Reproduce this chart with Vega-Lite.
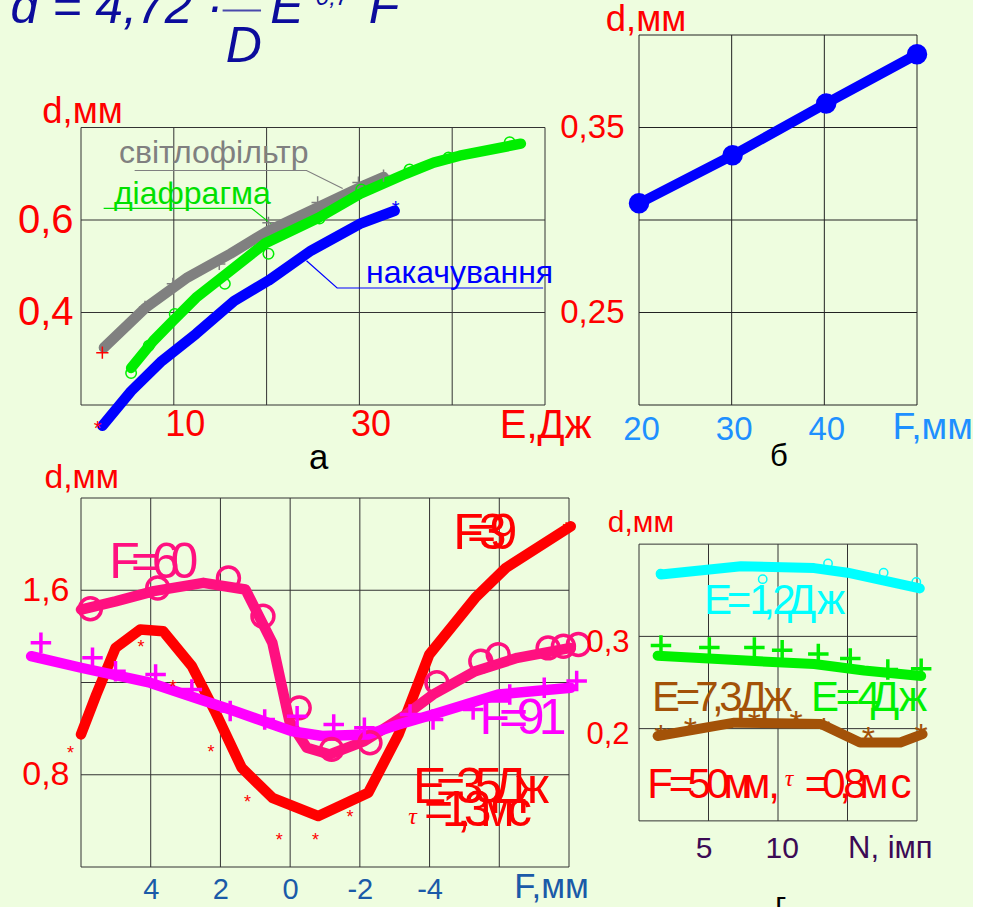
{
  "$schema": "https://vega.github.io/schema/vega-lite/v6.json",
  "background": "#eefddf",
  "padding": {"left": 10, "top": -17, "right": 0, "bottom": 0},
  "config": {
    "view": {"stroke": null},
    "font": "Liberation Sans",
    "axis": {"domain": false, "ticks": false, "grid": false, "title": null, "labelFont": "Liberation Sans", "labelFlush": false, "labelOverlap": false}
  },
  "columns": 2,
  "spacing": {"row": 93, "column": 70},
  "bounds": "flush",
  "concat": [
    {
      "width": 464,
      "height": 370,
      "resolve": {"scale": {"color": "independent"}},
      "layer": [
        {
          "data": {"values": [
            {"x": 0, "x2": 0, "y": 0.2, "y2": 0.8}, {"x": 10, "x2": 10, "y": 0.2, "y2": 0.8},
            {"x": 20, "x2": 20, "y": 0.2, "y2": 0.8}, {"x": 30, "x2": 30, "y": 0.2, "y2": 0.8},
            {"x": 40, "x2": 40, "y": 0.2, "y2": 0.8}, {"x": 50, "x2": 50, "y": 0.2, "y2": 0.8},
            {"x": 0, "x2": 50, "y": 0.2, "y2": 0.2}, {"x": 0, "x2": 50, "y": 0.4, "y2": 0.4},
            {"x": 0, "x2": 50, "y": 0.6, "y2": 0.6}, {"x": 0, "x2": 50, "y": 0.8, "y2": 0.8}
          ]},
          "mark": {"type": "rule", "color": "#333333", "strokeWidth": 1},
          "encoding": {
            "x": {"field": "x", "type": "quantitative", "scale": {"domain": [0, 50], "nice": false, "zero": false},
                  "axis": {"values": [10, 30], "labelFontSize": 36, "labelColor": "#ff0000", "labelOffset": 11, "labelPadding": 2, "title": null}},
            "x2": {"field": "x2"},
            "y": {"field": "y", "type": "quantitative", "scale": {"domain": [0.2, 1.0], "nice": false, "zero": false},
                  "axis": {"values": [0.4, 0.6], "labelExpr": "replace(format(datum.value,'.1f'),'.',',')", "labelFontSize": 40, "labelColor": "#ff0000", "labelPadding": 8, "title": null}},
            "y2": {"field": "y2"}
          }
        },
        {
          "data": {"values": [
            {"s": "світлофільтр", "x": 5.78, "y": 0.707}, {"s": "світлофільтр", "x": 24.3, "y": 0.707}, {"s": "світлофільтр", "x": 28.2, "y": 0.668},
            {"s": "діафрагма", "x": 2.44, "y": 0.625}, {"s": "діафрагма", "x": 18.4, "y": 0.625}, {"s": "діафрагма", "x": 21.4, "y": 0.577},
            {"s": "накачування", "x": 24.3, "y": 0.512}, {"s": "накачування", "x": 27.6, "y": 0.453}, {"s": "накачування", "x": 49.8, "y": 0.453}
          ]},
          "mark": {"type": "line", "strokeWidth": 1.2},
          "encoding": {
            "x": {"field": "x", "type": "quantitative"},
            "y": {"field": "y", "type": "quantitative"},
            "color": {"field": "s", "type": "nominal", "scale": {"domain": ["світлофільтр", "діафрагма", "накачування"], "range": ["#808080", "#00e000", "#0000ff"]}, "legend": null}
          }
        },
        {
          "data": {"values": [
            {"s": "світлофільтр", "x": 2.47, "y": 0.324}, {"s": "світлофільтр", "x": 7.0, "y": 0.411}, {"s": "світлофільтр", "x": 11.5, "y": 0.476},
            {"s": "світлофільтр", "x": 16.1, "y": 0.527}, {"s": "світлофільтр", "x": 20.2, "y": 0.577}, {"s": "світлофільтр", "x": 25.6, "y": 0.628},
            {"s": "світлофільтр", "x": 30.1, "y": 0.671}, {"s": "світлофільтр", "x": 32.6, "y": 0.693},
            {"s": "діафрагма", "x": 5.4, "y": 0.28}, {"s": "діафрагма", "x": 7.8, "y": 0.339}, {"s": "діафрагма", "x": 9.9, "y": 0.382},
            {"s": "діафрагма", "x": 12.4, "y": 0.432}, {"s": "діафрагма", "x": 15.7, "y": 0.484}, {"s": "діафрагма", "x": 19.8, "y": 0.549},
            {"s": "діафрагма", "x": 25.6, "y": 0.605}, {"s": "діафрагма", "x": 30.1, "y": 0.657}, {"s": "діафрагма", "x": 35.0, "y": 0.70},
            {"s": "діафрагма", "x": 38.0, "y": 0.724}, {"s": "діафрагма", "x": 40.8, "y": 0.739}, {"s": "діафрагма", "x": 47.4, "y": 0.765},
            {"s": "накачування", "x": 2.3, "y": 0.155}, {"s": "накачування", "x": 5.4, "y": 0.23}, {"s": "накачування", "x": 8.7, "y": 0.295},
            {"s": "накачування", "x": 12.4, "y": 0.354}, {"s": "накачування", "x": 16.5, "y": 0.425}, {"s": "накачування", "x": 20.2, "y": 0.469},
            {"s": "накачування", "x": 24.8, "y": 0.534}, {"s": "накачування", "x": 30.1, "y": 0.592}, {"s": "накачування", "x": 33.8, "y": 0.62}
          ]},
          "mark": {"type": "line", "strokeWidth": 10.5, "strokeCap": "round", "strokeJoin": "round"},
          "encoding": {
            "x": {"field": "x", "type": "quantitative"},
            "y": {"field": "y", "type": "quantitative"},
            "color": {"field": "s", "type": "nominal", "scale": {"domain": ["світлофільтр", "діафрагма", "накачування"], "range": ["#808080", "#00ee00", "#0000ff"]}, "legend": null}
          }
        },
        {
          "data": {"values": [
            {"x": 6.9, "y": 0.412}, {"x": 9.9, "y": 0.462}, {"x": 14.9, "y": 0.505}, {"x": 20.2, "y": 0.594},
            {"x": 25.5, "y": 0.638}, {"x": 29.9, "y": 0.681}, {"x": 32.6, "y": 0.696}
          ]},
          "mark": {"type": "point", "shape": "M-1,0H1M0,-1V1", "filled": false, "size": 150, "strokeWidth": 1.5, "color": "#808080", "opacity": 1},
          "encoding": {
            "x": {"field": "x", "type": "quantitative"},
            "y": {"field": "y", "type": "quantitative"}
          }
        },
        {
          "data": {"values": [{"x": 2.3, "y": 0.313}]},
          "mark": {"type": "point", "shape": "M-1,0H1M0,-1V1", "filled": false, "size": 150, "strokeWidth": 1.5, "color": "#ff0000", "opacity": 1},
          "encoding": {
            "x": {"field": "x", "type": "quantitative"},
            "y": {"field": "y", "type": "quantitative"}
          }
        },
        {
          "data": {"values": [
            {"x": 5.4, "y": 0.269}, {"x": 7.3, "y": 0.328}, {"x": 10.1, "y": 0.397}, {"x": 15.5, "y": 0.462},
            {"x": 20.2, "y": 0.527}, {"x": 25.7, "y": 0.603}, {"x": 30.2, "y": 0.666}, {"x": 35.4, "y": 0.709},
            {"x": 39.6, "y": 0.735}, {"x": 46.2, "y": 0.768}
          ]},
          "mark": {"type": "point", "shape": "circle", "filled": false, "size": 110, "strokeWidth": 1.5, "color": "#00ee00", "opacity": 1},
          "encoding": {
            "x": {"field": "x", "type": "quantitative"},
            "y": {"field": "y", "type": "quantitative"}
          }
        },
        {
          "data": {"values": [{"x": 1.8, "y": 0.16, "c": "r"}, {"x": 33.9, "y": 0.635, "c": "b"}]},
          "mark": {"type": "text", "text": "*", "fontSize": 20, "baseline": "middle", "dy": 5},
          "encoding": {
            "x": {"field": "x", "type": "quantitative"},
            "y": {"field": "y", "type": "quantitative"},
            "color": {"field": "c", "type": "nominal", "scale": {"domain": ["r", "b"], "range": ["#ff0000", "#0000ff"]}, "legend": null}
          }
        },
        {
          "data": {"values": [
            {"s": "світлофільтр", "x": 14.3, "y": 0.724}, {"s": "діафрагма", "x": 12.0, "y": 0.635}, {"s": "накачування", "x": 40.8, "y": 0.464}
          ]},
          "mark": {"type": "text", "fontSize": 32, "align": "center", "baseline": "alphabetic"},
          "encoding": {
            "x": {"field": "x", "type": "quantitative"},
            "y": {"field": "y", "type": "quantitative"},
            "text": {"field": "s"},
            "color": {"field": "s", "type": "nominal", "scale": {"domain": ["світлофільтр", "діафрагма", "накачування"], "range": ["#808080", "#00e000", "#0000ff"]}, "legend": null}
          }
        },
        {
          "data": {"values": [
            {"t": "d,мм", "x": 0.17, "y": 0.809, "k": "t", "f": 32},
            {"t": "E,Дж", "x": 50.06, "y": 0.1285, "k": "t", "f": 36},
            {"t": "а", "x": 25.6, "y": 0.0614, "k": "k", "f": 30}
          ]},
          "mark": {"type": "text", "align": "center", "baseline": "alphabetic"},
          "encoding": {
            "x": {"field": "x", "type": "quantitative"},
            "y": {"field": "y", "type": "quantitative"},
            "text": {"field": "t"},
            "size": {"field": "f", "type": "quantitative", "scale": {"type": "identity"}, "legend": null},
            "color": {"field": "k", "type": "nominal", "scale": {"domain": ["t", "k"], "range": ["#ff0000", "#000000"]}, "legend": null}
          }
        },
        {
          "data": {"values": [
            {"t": "d = 4,72 ·", "x": -7.59, "y": 1.025},
            {"t": "D", "x": 15.6, "y": 0.941},
            {"t": "E", "x": 20.4, "y": 1.025},
            {"t": "F", "x": 31.0, "y": 1.025}
          ]},
          "mark": {"type": "text", "align": "left", "baseline": "alphabetic", "fontSize": 50, "fontStyle": "italic", "color": "#0c0c9c"},
          "encoding": {
            "x": {"field": "x", "type": "quantitative"},
            "y": {"field": "y", "type": "quantitative"},
            "text": {"field": "t"}
          }
        },
        {
          "data": {"values": [{"t": "0,7", "x": 25.3, "y": 1.064}]},
          "mark": {"type": "text", "align": "left", "baseline": "alphabetic", "fontSize": 24, "fontStyle": "italic", "color": "#0c0c9c"},
          "encoding": {
            "x": {"field": "x", "type": "quantitative"},
            "y": {"field": "y", "type": "quantitative"},
            "text": {"field": "t"}
          }
        },
        {
          "data": {"values": [{"x": 15.26, "x2": 19.4, "y": 1.053}]},
          "mark": {"type": "rule", "color": "#4a4aac", "strokeWidth": 2},
          "encoding": {
            "x": {"field": "x", "type": "quantitative"},
            "x2": {"field": "x2"},
            "y": {"field": "y", "type": "quantitative"}
          }
        }
      ]
    },
    {
      "width": 278,
      "height": 370,
      "resolve": {"scale": {"color": "independent"}},
      "layer": [
        {
          "data": {"values": [
            {"x": 20, "x2": 20, "y": 0.2, "y2": 0.4}, {"x": 30, "x2": 30, "y": 0.2, "y2": 0.4},
            {"x": 40, "x2": 40, "y": 0.2, "y2": 0.4}, {"x": 50, "x2": 50, "y": 0.2, "y2": 0.4},
            {"x": 20, "x2": 50, "y": 0.2, "y2": 0.2}, {"x": 20, "x2": 50, "y": 0.25, "y2": 0.25},
            {"x": 20, "x2": 50, "y": 0.3, "y2": 0.3}, {"x": 20, "x2": 50, "y": 0.35, "y2": 0.35},
            {"x": 20, "x2": 50, "y": 0.4, "y2": 0.4}
          ]},
          "mark": {"type": "rule", "color": "#222222", "strokeWidth": 1},
          "encoding": {
            "x": {"field": "x", "type": "quantitative", "scale": {"domain": [20, 50], "nice": false, "zero": false},
                  "axis": {"values": [20, 30, 40], "labelFontSize": 33, "labelColor": "#1e90ff", "labelPadding": 8, "labelOffset": 2, "title": null}},
            "x2": {"field": "x2"},
            "y": {"field": "y", "type": "quantitative", "scale": {"domain": [0.2, 0.4], "nice": false, "zero": false},
                  "axis": {"values": [0.25, 0.35], "labelExpr": "replace(format(datum.value,'.2f'),'.',',')", "labelFontSize": 33, "labelColor": "#ff0000", "labelPadding": 15, "title": null}},
            "y2": {"field": "y2"}
          }
        },
        {
          "data": {"values": [
            {"x": 20.0, "y": 0.309}, {"x": 30.1, "y": 0.335}, {"x": 40.2, "y": 0.363}, {"x": 50.0, "y": 0.3896}
          ]},
          "mark": {"type": "line", "strokeWidth": 10, "color": "#0000ff", "point": {"filled": true, "size": 420, "color": "#0000ff"}},
          "encoding": {
            "x": {"field": "x", "type": "quantitative"},
            "y": {"field": "y", "type": "quantitative"}
          }
        },
        {
          "data": {"values": [
            {"t": "d,мм", "x": 20.76, "y": 0.402, "k": "r", "f": 32},
            {"t": "F,мм", "x": 51.7, "y": 0.1816, "k": "b", "f": 33},
            {"t": "б", "x": 35.1, "y": 0.167, "k": "k", "f": 26}
          ]},
          "mark": {"type": "text", "align": "center", "baseline": "alphabetic"},
          "encoding": {
            "x": {"field": "x", "type": "quantitative"},
            "y": {"field": "y", "type": "quantitative"},
            "text": {"field": "t"},
            "size": {"field": "f", "type": "quantitative", "scale": {"type": "identity"}, "legend": null},
            "color": {"field": "k", "type": "nominal", "scale": {"domain": ["r", "b", "k"], "range": ["#ff0000", "#1e90ff", "#000000"]}, "legend": null}
          }
        }
      ]
    },
    {
      "width": 488,
      "height": 369,
      "resolve": {"scale": {"color": "independent"}},
      "layer": [
        {
          "data": {"values": [
            {"x": 6, "x2": 6, "y": 0.4, "y2": 2.0}, {"x": 4, "x2": 4, "y": 0.4, "y2": 2.0},
            {"x": 2, "x2": 2, "y": 0.4, "y2": 2.0}, {"x": 0, "x2": 0, "y": 0.4, "y2": 2.0},
            {"x": -2, "x2": -2, "y": 0.4, "y2": 2.0}, {"x": -4, "x2": -4, "y": 0.4, "y2": 2.0},
            {"x": -6, "x2": -6, "y": 0.4, "y2": 2.0}, {"x": -8, "x2": -8, "y": 0.4, "y2": 2.0},
            {"x": 6, "x2": -8, "y": 0.4, "y2": 0.4}, {"x": 6, "x2": -8, "y": 0.8, "y2": 0.8},
            {"x": 6, "x2": -8, "y": 1.2, "y2": 1.2}, {"x": 6, "x2": -8, "y": 1.6, "y2": 1.6},
            {"x": 6, "x2": -8, "y": 2.0, "y2": 2.0}
          ]},
          "mark": {"type": "rule", "color": "#333333", "strokeWidth": 1},
          "encoding": {
            "x": {"field": "x", "type": "quantitative", "scale": {"domain": [-8, 6], "reverse": true, "nice": false, "zero": false},
                  "axis": {"values": [4, 2, 0, -2, -4], "labelExpr": "datum.value < 0 ? '-' + format(-datum.value,'d') : format(datum.value,'d')", "labelFontSize": 29, "labelColor": "#1a5aa8", "labelPadding": 8, "title": null}},
            "x2": {"field": "x2"},
            "y": {"field": "y", "type": "quantitative", "scale": {"domain": [0.4, 2.0], "nice": false, "zero": false},
                  "axis": {"values": [0.8, 1.6], "labelExpr": "replace(format(datum.value,'.1f'),'.',',')", "labelFontSize": 34, "labelColor": "#ff0000", "labelPadding": 12, "title": null}},
            "y2": {"field": "y2"}
          }
        },
        {
          "data": {"values": [
            {"s": "F=39", "x": 6.0, "y": 0.975}, {"s": "F=39", "x": 5.56, "y": 1.148}, {"s": "F=39", "x": 5.01, "y": 1.35},
            {"s": "F=39", "x": 4.30, "y": 1.43}, {"s": "F=39", "x": 3.64, "y": 1.422}, {"s": "F=39", "x": 2.82, "y": 1.271},
            {"s": "F=39", "x": 2.16, "y": 1.076}, {"s": "F=39", "x": 1.39, "y": 0.83}, {"s": "F=39", "x": 0.51, "y": 0.70},
            {"s": "F=39", "x": -0.81, "y": 0.621}, {"s": "F=39", "x": -2.24, "y": 0.722}, {"s": "F=39", "x": -3.11, "y": 0.975},
            {"s": "F=39", "x": -3.99, "y": 1.321}, {"s": "F=39", "x": -5.31, "y": 1.567}, {"s": "F=39", "x": -6.19, "y": 1.697},
            {"s": "F=39", "x": -8.05, "y": 1.877},
            {"s": "F=60", "x": 6.0, "y": 1.516}, {"s": "F=60", "x": 5.01, "y": 1.552}, {"s": "F=60", "x": 3.91, "y": 1.596},
            {"s": "F=60", "x": 2.49, "y": 1.632}, {"s": "F=60", "x": 1.28, "y": 1.603}, {"s": "F=60", "x": 0.51, "y": 1.372},
            {"s": "F=60", "x": 0.02, "y": 1.033}, {"s": "F=60", "x": -0.48, "y": 0.917}, {"s": "F=60", "x": -1.14, "y": 0.888},
            {"s": "F=60", "x": -2.13, "y": 0.946}, {"s": "F=60", "x": -3.33, "y": 1.061}, {"s": "F=60", "x": -4.10, "y": 1.148},
            {"s": "F=60", "x": -5.31, "y": 1.249}, {"s": "F=60", "x": -6.52, "y": 1.307}, {"s": "F=60", "x": -8.05, "y": 1.35},
            {"s": "F=91", "x": 7.43, "y": 1.314}, {"s": "F=91", "x": 6.0, "y": 1.264}, {"s": "F=91", "x": 4.02, "y": 1.199},
            {"s": "F=91", "x": 1.72, "y": 1.083}, {"s": "F=91", "x": -0.04, "y": 0.989}, {"s": "F=91", "x": -0.92, "y": 0.968},
            {"s": "F=91", "x": -2.24, "y": 0.975}, {"s": "F=91", "x": -3.11, "y": 1.018}, {"s": "F=91", "x": -4.10, "y": 1.061},
            {"s": "F=91", "x": -5.97, "y": 1.148}, {"s": "F=91", "x": -8.05, "y": 1.177}
          ]},
          "mark": {"type": "line", "strokeWidth": 10.5, "strokeCap": "round", "strokeJoin": "round"},
          "encoding": {
            "x": {"field": "x", "type": "quantitative"},
            "y": {"field": "y", "type": "quantitative"},
            "color": {"field": "s", "type": "nominal", "scale": {"domain": ["F=39", "F=60", "F=91"], "range": ["#ff0000", "#ff1080", "#ff00ff"]}, "legend": null}
          }
        },
        {
          "data": {"values": [
            {"x": 5.73, "y": 1.52}, {"x": 3.80, "y": 1.61}, {"x": 1.77, "y": 1.653}, {"x": 0.78, "y": 1.487},
            {"x": -0.26, "y": 1.09}, {"x": -1.19, "y": 0.91}, {"x": -2.29, "y": 0.939}, {"x": -4.21, "y": 1.199},
            {"x": -5.47, "y": 1.292}, {"x": -5.97, "y": 1.321}, {"x": -7.40, "y": 1.35}, {"x": -7.84, "y": 1.357},
            {"x": -8.27, "y": 1.365}
          ]},
          "mark": {"type": "point", "shape": "circle", "filled": false, "size": 480, "strokeWidth": 3.5, "color": "#ff1080", "opacity": 1},
          "encoding": {
            "x": {"field": "x", "type": "quantitative"},
            "y": {"field": "y", "type": "quantitative"}
          }
        },
        {
          "data": {"values": [
            {"x": 7.15, "y": 1.372}, {"x": 5.67, "y": 1.307}, {"x": 5.01, "y": 1.249}, {"x": 3.86, "y": 1.235},
            {"x": 2.82, "y": 1.17}, {"x": 1.72, "y": 1.076}, {"x": 0.73, "y": 1.04}, {"x": -0.2, "y": 1.054},
            {"x": -1.25, "y": 1.018}, {"x": -2.13, "y": 1.004}, {"x": -3.44, "y": 1.061}, {"x": -4.1, "y": 1.04},
            {"x": -5.25, "y": 1.083}, {"x": -6.3, "y": 1.148}, {"x": -7.29, "y": 1.177}, {"x": -8.22, "y": 1.206}
          ]},
          "mark": {"type": "point", "shape": "M-1,0H1M0,-1V1", "filled": false, "size": 420, "strokeWidth": 3.5, "color": "#ff00ff", "opacity": 1},
          "encoding": {
            "x": {"field": "x", "type": "quantitative"},
            "y": {"field": "y", "type": "quantitative"}
          }
        },
        {
          "data": {"values": [
            {"x": 6.30, "y": 0.91}, {"x": 4.28, "y": 1.372}, {"x": 3.36, "y": 1.20}, {"x": 2.27, "y": 0.917},
            {"x": 1.22, "y": 0.70}, {"x": 0.31, "y": 0.534}, {"x": -0.73, "y": 0.534}, {"x": -1.72, "y": 0.635},
            {"x": -6.9, "y": 1.776}, {"x": -7.92, "y": 1.885}
          ]},
          "mark": {"type": "text", "text": "*", "fontSize": 18, "baseline": "middle", "dy": 5, "color": "#ff0000"},
          "encoding": {
            "x": {"field": "x", "type": "quantitative"},
            "y": {"field": "y", "type": "quantitative"}
          }
        },
        {
          "data": {"values": [
            {"lab": "F=39", "t": "F", "x": -5.12, "y": 1.779}, {"lab": "F=39", "t": "=", "x": -5.49, "y": 1.779},
            {"lab": "F=39", "t": "3", "x": -5.81, "y": 1.779}, {"lab": "F=39", "t": "9", "x": -6.12, "y": 1.779},
            {"lab": "F=60", "t": "F", "x": 4.75, "y": 1.653}, {"lab": "F=60", "t": "=", "x": 4.15, "y": 1.653},
            {"lab": "F=60", "t": "6", "x": 3.57, "y": 1.653}, {"lab": "F=60", "t": "0", "x": 3.03, "y": 1.653},
            {"lab": "F=91", "t": "F", "x": -5.87, "y": 0.977}, {"lab": "F=91", "t": "=", "x": -6.41, "y": 0.977},
            {"lab": "F=91", "t": "9", "x": -6.90, "y": 0.977}, {"lab": "F=91", "t": "1", "x": -7.53, "y": 0.977},
            {"lab": "E=35Дж", "t": "E", "x": -4.0, "y": 0.678}, {"lab": "E=35Дж", "t": "=", "x": -4.60, "y": 0.678},
            {"lab": "E=35Дж", "t": "3", "x": -5.15, "y": 0.678}, {"lab": "E=35Дж", "t": "5", "x": -5.69, "y": 0.678},
            {"lab": "E=35Дж", "t": "Д", "x": -6.29, "y": 0.678}, {"lab": "E=35Дж", "t": "ж", "x": -6.95, "y": 0.678},
            {"lab": "τ=1,3мс", "t": "=", "x": -4.26, "y": 0.578}, {"lab": "τ=1,3мс", "t": "1", "x": -4.75, "y": 0.578},
            {"lab": "τ=1,3мс", "t": ",", "x": -4.98, "y": 0.578}, {"lab": "τ=1,3мс", "t": "3", "x": -5.38, "y": 0.578},
            {"lab": "τ=1,3мс", "t": "м", "x": -5.95, "y": 0.578}, {"lab": "τ=1,3мс", "t": "с", "x": -6.58, "y": 0.578}
          ]},
          "mark": {"type": "text", "fontSize": 50, "align": "center", "baseline": "alphabetic"},
          "encoding": {
            "x": {"field": "x", "type": "quantitative"},
            "y": {"field": "y", "type": "quantitative"},
            "text": {"field": "t"},
            "color": {"field": "lab", "type": "nominal", "scale": {"domain": ["F=39", "F=60", "F=91", "E=35Дж", "τ=1,3мс"], "range": ["#ff0000", "#ff1080", "#ff00ff", "#ff0000", "#ff0000"]}, "legend": null}
          }
        },
        {
          "data": {"values": [{"t": "τ", "x": -3.51, "y": 0.586}]},
          "mark": {"type": "text", "fontSize": 24, "fontStyle": "italic", "font": "Liberation Serif", "align": "center", "baseline": "alphabetic", "color": "#ff0000"},
          "encoding": {
            "x": {"field": "x", "type": "quantitative"},
            "y": {"field": "y", "type": "quantitative"},
            "text": {"field": "t"}
          }
        },
        {
          "data": {"values": [
            {"t": "d,мм", "x": 5.98, "y": 2.0435, "k": "r", "f": 29},
            {"t": "F,мм", "x": -7.5, "y": 0.2656, "k": "b", "f": 30},
            {"t": "в", "x": -0.3, "y": 0.144, "k": "k", "f": 26}
          ]},
          "mark": {"type": "text", "align": "center", "baseline": "alphabetic"},
          "encoding": {
            "x": {"field": "x", "type": "quantitative"},
            "y": {"field": "y", "type": "quantitative"},
            "text": {"field": "t"},
            "size": {"field": "f", "type": "quantitative", "scale": {"type": "identity"}, "legend": null},
            "color": {"field": "k", "type": "nominal", "scale": {"domain": ["r", "b", "k"], "range": ["#ff0000", "#1a5aa8", "#000000"]}, "legend": null}
          }
        }
      ]
    },
    {
      "width": 278,
      "height": 369,
      "resolve": {"scale": {"color": "independent"}},
      "layer": [
        {
          "data": {"values": [
            {"x": 0, "x2": 0, "y": 0.1, "y2": 0.4}, {"x": 5, "x2": 5, "y": 0.1, "y2": 0.4},
            {"x": 10, "x2": 10, "y": 0.1, "y2": 0.4}, {"x": 15, "x2": 15, "y": 0.1, "y2": 0.4},
            {"x": 20, "x2": 20, "y": 0.1, "y2": 0.4},
            {"x": 0, "x2": 20, "y": 0.1, "y2": 0.1}, {"x": 0, "x2": 20, "y": 0.2, "y2": 0.2},
            {"x": 0, "x2": 20, "y": 0.3, "y2": 0.3}, {"x": 0, "x2": 20, "y": 0.4, "y2": 0.4}
          ]},
          "mark": {"type": "rule", "color": "#333333", "strokeWidth": 1},
          "encoding": {
            "x": {"field": "x", "type": "quantitative", "scale": {"domain": [0, 20], "nice": false, "zero": false}, "axis": null},
            "x2": {"field": "x2"},
            "y": {"field": "y", "type": "quantitative", "scale": {"domain": [0.05, 0.45], "nice": false, "zero": false},
                  "axis": {"values": [0.2, 0.3], "labelExpr": "replace(format(datum.value,'.1f'),'.',',')", "labelFontSize": 31, "labelColor": "#ff0000", "labelPadding": 10, "labelOffset": 6, "title": null}},
            "y2": {"field": "y2"}
          }
        },
        {
          "data": {"values": [
            {"s": "c", "x": 1.58, "y": 0.367}, {"s": "c", "x": 7.34, "y": 0.376}, {"s": "c", "x": 12.6, "y": 0.374},
            {"s": "c", "x": 15.0, "y": 0.369}, {"s": "c", "x": 20.2, "y": 0.352},
            {"s": "g", "x": 1.34, "y": 0.279}, {"s": "g", "x": 7.34, "y": 0.274}, {"s": "g", "x": 12.6, "y": 0.270},
            {"s": "g", "x": 16.2, "y": 0.263}, {"s": "g", "x": 20.3, "y": 0.257},
            {"s": "b", "x": 1.34, "y": 0.192}, {"s": "b", "x": 6.86, "y": 0.2065}, {"s": "b", "x": 13.1, "y": 0.205},
            {"s": "b", "x": 15.9, "y": 0.185}, {"s": "b", "x": 18.8, "y": 0.185}, {"s": "b", "x": 20.4, "y": 0.194}
          ]},
          "mark": {"type": "line", "strokeWidth": 10, "strokeCap": "round", "strokeJoin": "round"},
          "encoding": {
            "x": {"field": "x", "type": "quantitative", "axis": null},
            "y": {"field": "y", "type": "quantitative"},
            "color": {"field": "s", "type": "nominal", "scale": {"domain": ["c", "g", "b"], "range": ["#00ffff", "#00f000", "#a35208"]}, "legend": null}
          }
        },
        {
          "data": {"values": [
            {"x": 1.55, "y": 0.368}, {"x": 8.9, "y": 0.362}, {"x": 13.6, "y": 0.379}, {"x": 17.6, "y": 0.369}, {"x": 19.95, "y": 0.359}
          ]},
          "mark": {"type": "point", "shape": "circle", "filled": false, "size": 70, "strokeWidth": 1.5, "color": "#00ffff", "opacity": 1},
          "encoding": {
            "x": {"field": "x", "type": "quantitative", "axis": null},
            "y": {"field": "y", "type": "quantitative"}
          }
        },
        {
          "data": {"values": [
            {"x": 1.58, "y": 0.290}, {"x": 5.06, "y": 0.288}, {"x": 8.3, "y": 0.288}, {"x": 10.3, "y": 0.285},
            {"x": 12.9, "y": 0.281}, {"x": 15.2, "y": 0.276}, {"x": 17.9, "y": 0.264}, {"x": 20.3, "y": 0.265}
          ]},
          "mark": {"type": "point", "shape": "M-1,0H1M0,-1V1", "filled": false, "size": 420, "strokeWidth": 3.5, "color": "#00f000", "opacity": 1},
          "encoding": {
            "x": {"field": "x", "type": "quantitative", "axis": null},
            "y": {"field": "y", "type": "quantitative"}
          }
        },
        {
          "data": {"values": [
            {"x": 1.58, "y": 0.20}, {"x": 3.7, "y": 0.207}, {"x": 8.3, "y": 0.215}, {"x": 11.3, "y": 0.215},
            {"x": 13.3, "y": 0.207}, {"x": 16.5, "y": 0.197}, {"x": 20.3, "y": 0.201}
          ]},
          "mark": {"type": "text", "text": "*", "fontSize": 34, "baseline": "middle", "dy": 9, "color": "#a35208"},
          "encoding": {
            "x": {"field": "x", "type": "quantitative", "axis": null},
            "y": {"field": "y", "type": "quantitative"}
          }
        },
        {
          "data": {"values": [
            {"lab": "E=1,2Дж", "t": "E", "x": 5.68, "y": 0.324}, {"lab": "E=1,2Дж", "t": "=", "x": 7.19, "y": 0.324},
            {"lab": "E=1,2Дж", "t": "1", "x": 8.78, "y": 0.324}, {"lab": "E=1,2Дж", "t": ",", "x": 9.35, "y": 0.324},
            {"lab": "E=1,2Дж", "t": "2", "x": 10.43, "y": 0.324}, {"lab": "E=1,2Дж", "t": "Д", "x": 11.73, "y": 0.324},
            {"lab": "E=1,2Дж", "t": "ж", "x": 13.81, "y": 0.324},
            {"lab": "E=4Дж", "t": "E", "x": 13.38, "y": 0.219}, {"lab": "E=4Дж", "t": "=", "x": 15.04, "y": 0.219},
            {"lab": "E=4Дж", "t": "4", "x": 16.55, "y": 0.219}, {"lab": "E=4Дж", "t": "Д", "x": 17.70, "y": 0.219},
            {"lab": "E=4Дж", "t": "ж", "x": 19.71, "y": 0.219},
            {"lab": "E=7,3Дж", "t": "E", "x": 1.94, "y": 0.219}, {"lab": "E=7,3Дж", "t": "=", "x": 3.53, "y": 0.219},
            {"lab": "E=7,3Дж", "t": "7", "x": 4.89, "y": 0.219}, {"lab": "E=7,3Дж", "t": ",", "x": 5.68, "y": 0.219},
            {"lab": "E=7,3Дж", "t": "3", "x": 6.62, "y": 0.219}, {"lab": "E=7,3Дж", "t": "Д", "x": 8.20, "y": 0.219},
            {"lab": "E=7,3Дж", "t": "ж", "x": 10.0, "y": 0.219},
            {"lab": "F=50мм,τ=0,8мс", "t": "F", "x": 1.51, "y": 0.1248}, {"lab": "F=50мм,τ=0,8мс", "t": "=", "x": 3.02, "y": 0.1248},
            {"lab": "F=50мм,τ=0,8мс", "t": "5", "x": 4.32, "y": 0.1248}, {"lab": "F=50мм,τ=0,8мс", "t": "0", "x": 5.68, "y": 0.1248},
            {"lab": "F=50мм,τ=0,8мс", "t": "м", "x": 7.12, "y": 0.1248}, {"lab": "F=50мм,τ=0,8мс", "t": "м", "x": 8.42, "y": 0.1248},
            {"lab": "F=50мм,τ=0,8мс", "t": ",", "x": 9.71, "y": 0.1248}, {"lab": "F=50мм,τ=0,8мс", "t": "=", "x": 12.81, "y": 0.1248},
            {"lab": "F=50мм,τ=0,8мс", "t": "0", "x": 14.03, "y": 0.1248}, {"lab": "F=50мм,τ=0,8мс", "t": ",", "x": 14.82, "y": 0.1248},
            {"lab": "F=50мм,τ=0,8мс", "t": "8", "x": 15.54, "y": 0.1248}, {"lab": "F=50мм,τ=0,8мс", "t": "м", "x": 16.91, "y": 0.1248},
            {"lab": "F=50мм,τ=0,8мс", "t": "с", "x": 18.85, "y": 0.1248}
          ]},
          "mark": {"type": "text", "fontSize": 42, "align": "center", "baseline": "alphabetic"},
          "encoding": {
            "x": {"field": "x", "type": "quantitative", "axis": null},
            "y": {"field": "y", "type": "quantitative"},
            "text": {"field": "t"},
            "color": {"field": "lab", "type": "nominal", "scale": {"domain": ["E=1,2Дж", "E=4Дж", "E=7,3Дж", "F=50мм,τ=0,8мс"], "range": ["#00ffff", "#00f000", "#a35208", "#ff0000"]}, "legend": null}
          }
        },
        {
          "data": {"values": [{"t": "τ", "x": 10.79, "y": 0.1378}]},
          "mark": {"type": "text", "fontSize": 24, "fontStyle": "italic", "font": "Liberation Serif", "align": "center", "baseline": "alphabetic", "color": "#ff0000"},
          "encoding": {
            "x": {"field": "x", "type": "quantitative", "axis": null},
            "y": {"field": "y", "type": "quantitative"},
            "text": {"field": "t"}
          }
        },
        {
          "data": {"values": [
            {"t": "d,мм", "x": 0.14, "y": 0.413, "k": "r"},
            {"t": "5", "x": 4.68, "y": 0.0598, "k": "p"},
            {"t": "10", "x": 10.3, "y": 0.0598, "k": "p"},
            {"t": "г", "x": 10.2, "y": 0.0001, "k": "k"}
          ]},
          "mark": {"type": "text", "align": "center", "baseline": "alphabetic", "fontSize": 30},
          "encoding": {
            "x": {"field": "x", "type": "quantitative", "axis": null},
            "y": {"field": "y", "type": "quantitative"},
            "text": {"field": "t"},
            "color": {"field": "k", "type": "nominal", "scale": {"domain": ["r", "p", "k"], "range": ["#ff0000", "#3c0a55", "#000000"]}, "legend": null}
          }
        },
        {
          "data": {"values": [{"t": "N, імп", "x": 15.04, "y": 0.0598}]},
          "mark": {"type": "text", "align": "left", "baseline": "alphabetic", "fontSize": 31, "color": "#3c0a55"},
          "encoding": {
            "x": {"field": "x", "type": "quantitative", "axis": null},
            "y": {"field": "y", "type": "quantitative"},
            "text": {"field": "t"}
          }
        }
      ]
    }
  ]
}
